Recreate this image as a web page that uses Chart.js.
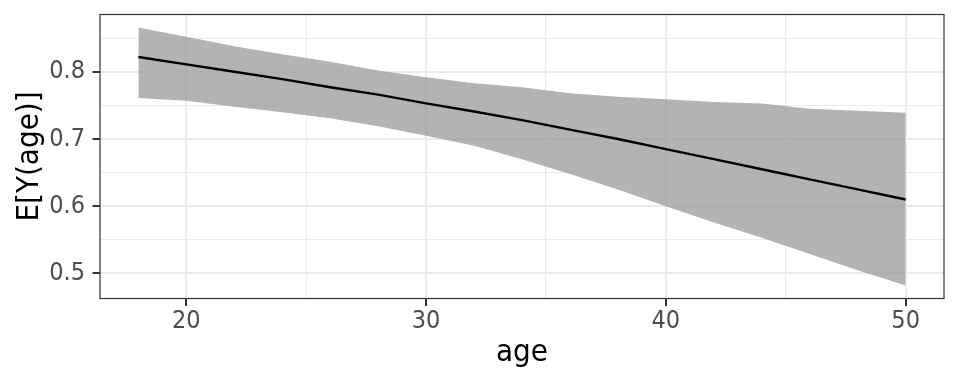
<!DOCTYPE html>
<html>
<head>
<meta charset="utf-8">
<script src="https://cdn.jsdelivr.net/npm/chart.js@4/dist/chart.umd.min.js"></script>
<style>
  html, body { margin: 0; padding: 0; background: #ffffff; }
  #wrap { width: 960px; height: 384px; position: relative; }
</style>
</head>
<body>
<div id="wrap"><canvas id="c" width="960" height="384"></canvas></div>
<script>
// ---- data ----
const ages  = [18, 20, 22, 24, 26, 28, 30, 32, 34, 36, 38, 40, 42, 44, 46, 48, 50];
const fit   = [0.822, 0.811, 0.800, 0.789, 0.777, 0.766, 0.753, 0.741, 0.728, 0.714, 0.700, 0.685, 0.670, 0.655, 0.640, 0.625, 0.610];
const upper = [0.866, 0.852, 0.838, 0.826, 0.815, 0.802, 0.792, 0.783, 0.777, 0.768, 0.763, 0.759, 0.755, 0.753, 0.745, 0.742, 0.739];
const lower = [0.761, 0.757, 0.748, 0.740, 0.731, 0.719, 0.705, 0.690, 0.670, 0.648, 0.625, 0.600, 0.576, 0.553, 0.529, 0.505, 0.482];

const xMajorTicks = [20, 30, 40, 50];
const xMinorTicks = [25, 35, 45];
const yMajorTicks = [0.5, 0.6, 0.7, 0.8];
const yMinorTicks = [0.55, 0.65, 0.75, 0.85];

const xTitle = 'age';
const yTitle = 'E[Y(age)]';

// ---- scale limits with ggplot-style 5% expansion ----
const xLo = Math.min(...ages), xHi = Math.max(...ages);
const xPad = (xHi - xLo) * 0.05;
const yLo = Math.min(...lower), yHi = Math.max(...upper);
const yPad = (yHi - yLo) * 0.05;

const toXY = (ys) => ages.map((a, i) => ({ x: a, y: ys[i] }));

const FONT = "'DejaVu Sans Condensed', 'DejaVu Sans', sans-serif";
const isMajor = (v, majors) => majors.some(m => Math.abs(m - v) < 1e-9);

const panelBorder = {
  id: 'panelBorder',
  afterDatasetsDraw(chart) {
    const { ctx, chartArea: a } = chart;
    ctx.save();
    ctx.strokeStyle = '#333333';
    ctx.lineWidth = 1.2;
    ctx.strokeRect(a.left, a.top, a.right - a.left, a.bottom - a.top);
    ctx.restore();
  }
};

new Chart(document.getElementById('c'), {
  type: 'line',
  data: {
    datasets: [
      {
        label: 'fit',
        data: toXY(fit),
        borderColor: '#000000',
        borderWidth: 2.4,
        pointRadius: 0,
        fill: false,
        tension: 0,
        order: 0
      },
      {
        label: 'upper',
        data: toXY(upper),
        borderWidth: 0,
        borderColor: 'rgba(0,0,0,0)',
        pointRadius: 0,
        backgroundColor: 'rgba(153,153,153,0.74)',
        fill: '+1',
        tension: 0,
        order: 1
      },
      {
        label: 'lower',
        data: toXY(lower),
        borderWidth: 0,
        borderColor: 'rgba(0,0,0,0)',
        pointRadius: 0,
        fill: false,
        tension: 0,
        order: 2
      }
    ]
  },
  options: {
    responsive: false,
    animation: false,
    layout: { padding: { top: 14.5, right: 16, left: 0, bottom: 0 } },
    plugins: {
      legend: { display: false },
      tooltip: { enabled: false },
      filler: { propagate: false }
    },
    scales: {
      x: {
        type: 'linear',
        min: xLo - xPad,
        max: xHi + xPad,
        afterBuildTicks(scale) {
          scale.ticks = [...xMajorTicks, ...xMinorTicks].sort((a, b) => a - b).map(v => ({ value: v }));
        },
        afterFit(scale) { scale.height = 85.5; scale.paddingLeft = 0; scale.paddingRight = 0; },
        border: { display: false },
        grid: {
          color: '#EBEBEB',
          lineWidth: (ctx) => isMajor(ctx.tick.value, xMajorTicks) ? 2 : 1.1,
          drawTicks: true,
          tickLength: 7.5,
          tickWidth: 2,
          tickColor: (ctx) => isMajor(ctx.tick.value, xMajorTicks) ? '#333333' : 'rgba(0,0,0,0)'
        },
        ticks: {
          autoSkip: false,
          maxRotation: 0,
          padding: 3,
          color: '#4D4D4D',
          font: { family: FONT, size: 25, lineHeight: 1 },
          callback: (v) => isMajor(v, xMajorTicks) ? String(v) : ''
        },
        title: {
          display: true,
          text: xTitle,
          color: '#000000',
          font: { family: FONT, size: 31, lineHeight: 1 },
          padding: { top: 0, bottom: 16 }
        }
      },
      y: {
        type: 'linear',
        min: yLo - yPad,
        max: yHi + yPad,
        afterBuildTicks(scale) {
          scale.ticks = [...yMajorTicks, ...yMinorTicks].sort((a, b) => a - b).map(v => ({ value: v }));
        },
        afterFit(scale) { scale.width = 100; scale.paddingTop = 0; scale.paddingBottom = 0; },
        border: { display: false },
        grid: {
          color: '#EBEBEB',
          lineWidth: (ctx) => isMajor(ctx.tick.value, yMajorTicks) ? 2 : 1.1,
          drawTicks: true,
          tickLength: 7.5,
          tickWidth: 2,
          tickColor: (ctx) => isMajor(ctx.tick.value, yMajorTicks) ? '#333333' : 'rgba(0,0,0,0)'
        },
        ticks: {
          autoSkip: false,
          padding: 7.5,
          color: '#4D4D4D',
          font: { family: FONT, size: 25, lineHeight: 1 },
          callback: (v) => isMajor(v, yMajorTicks) ? v.toFixed(1) : ''
        },
        title: {
          display: true,
          text: yTitle,
          color: '#000000',
          font: { family: FONT, size: 31, lineHeight: 1 },
          padding: { top: 14.5, bottom: 0 }
        }
      }
    }
  },
  plugins: [panelBorder]
});
</script>
</body>
</html>
